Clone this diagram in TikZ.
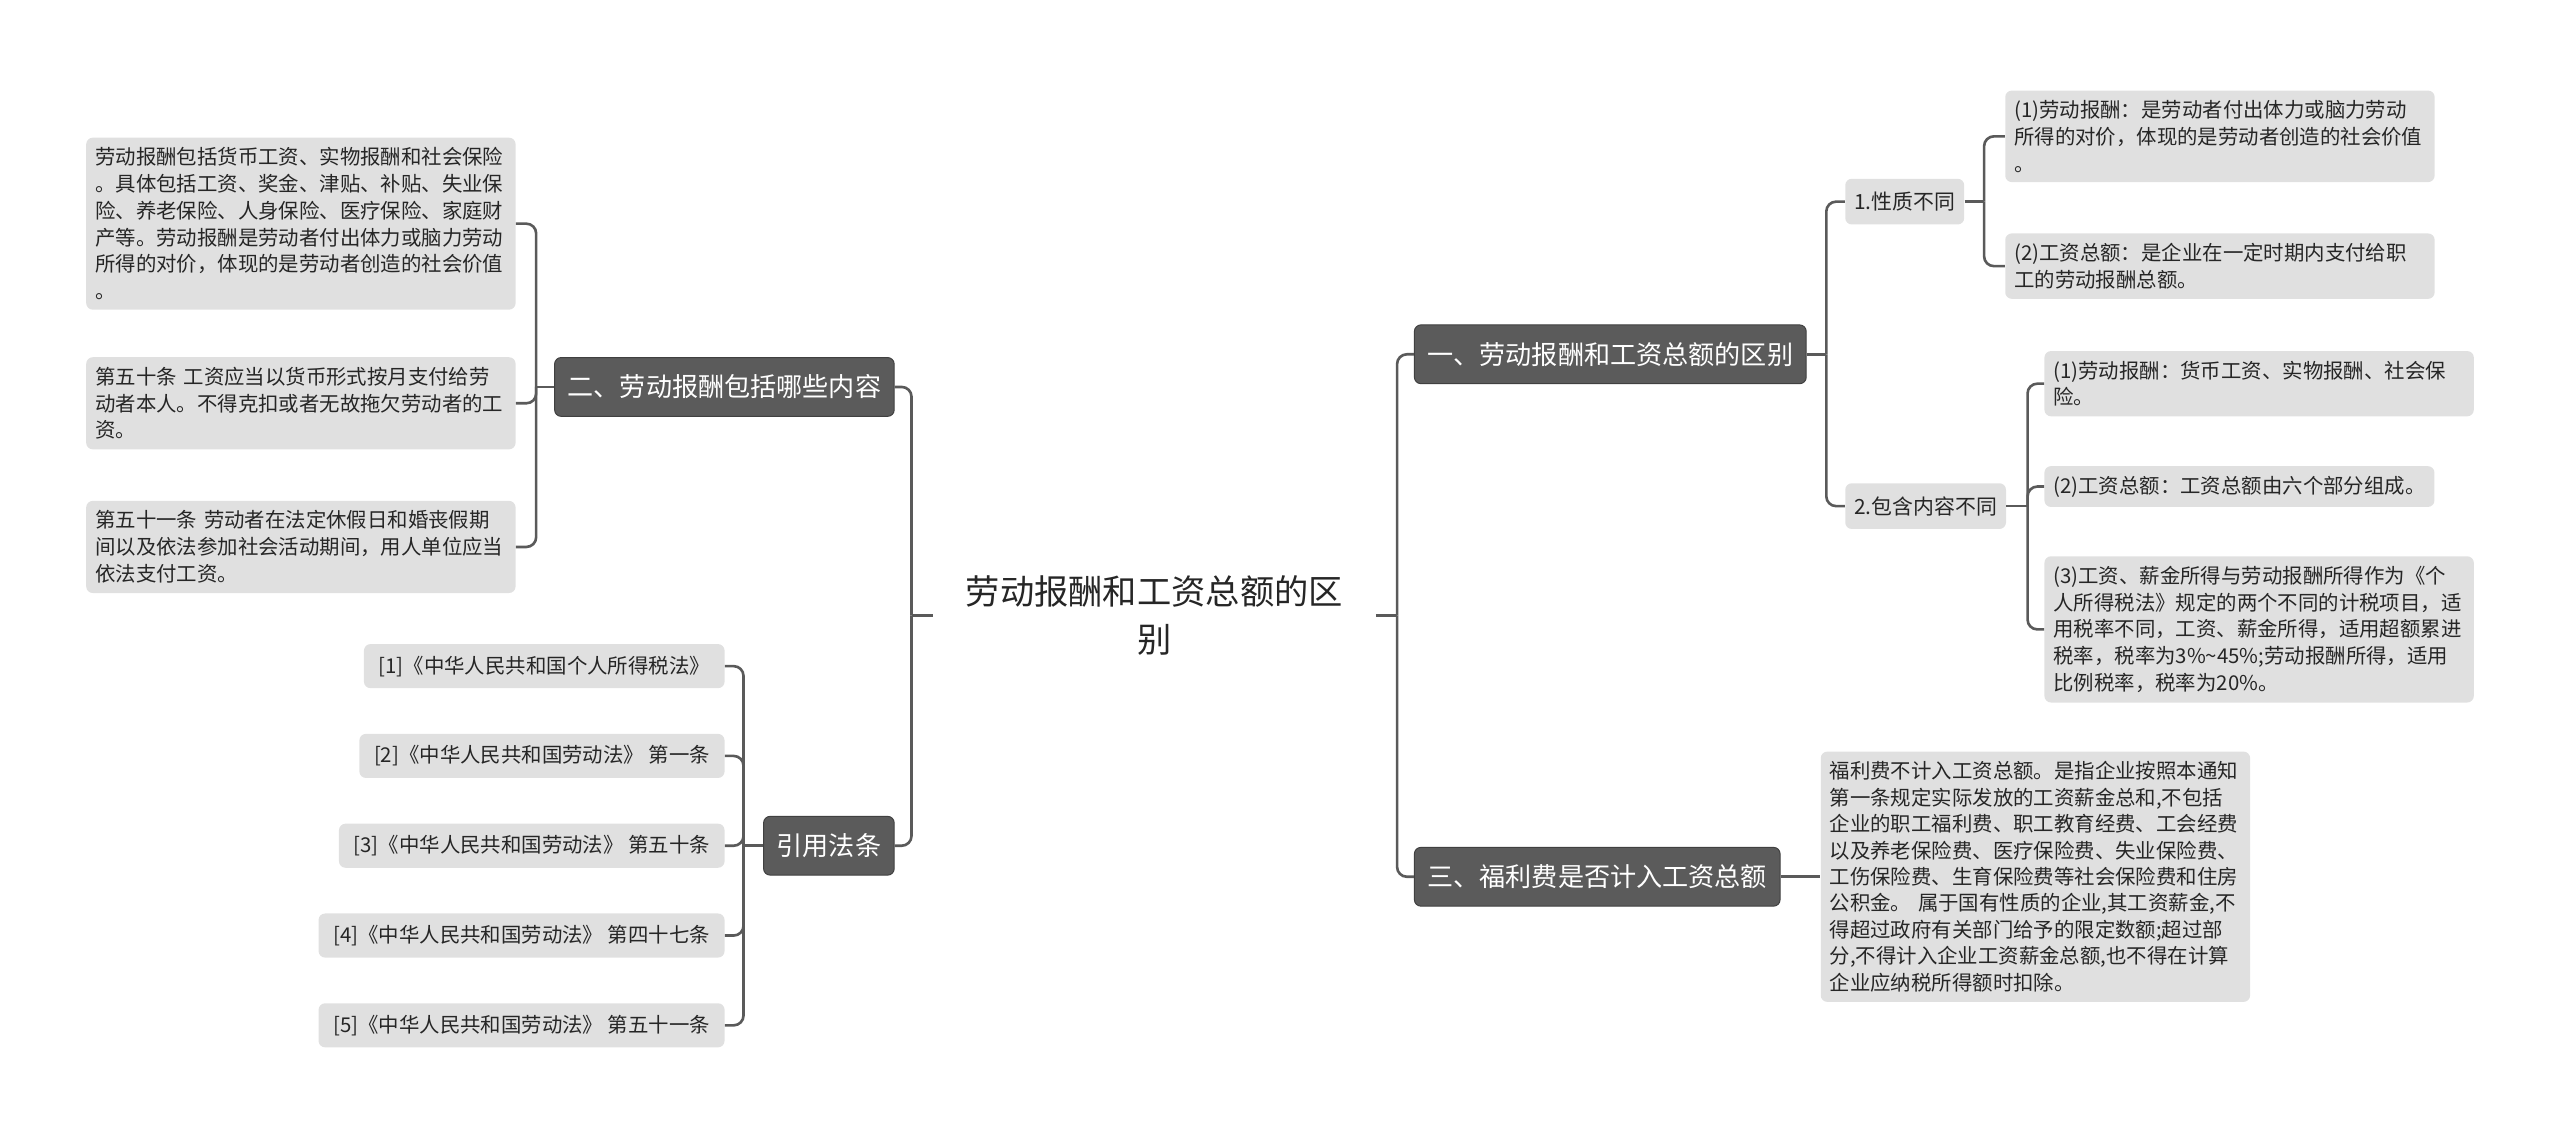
\documentclass[tikz,border=0pt]{standalone}
\usepackage{fontspec}
\setmainfont{Noto Sans CJK SC}
\usepackage{xcolor}
\usepackage{tikz}
\definecolor{linegray}{HTML}{5A5A5A}
\definecolor{topicgray}{HTML}{5B5B5B}
\definecolor{boxgray}{HTML}{E0E0E0}

\begin{document}
\begin{tikzpicture}[x=1pt,y=-1pt,
    conn/.style={draw=linegray,line width=1.6pt,rounded corners=6pt},
    topic/.style={fill=topicgray,draw=black!75,line width=0.6pt,rounded corners=4pt,text=white,
      minimum height=36pt,inner xsep=8pt,font=\fontsize{16}{19}\selectfont},
    box/.style={fill=boxgray,rounded corners=4pt,text=black!85,align=left,inner xsep=5.5pt,
      inner ysep=6pt,font=\fontsize{12.5}{16.4}\selectfont},
    leaf/.style={box,text width=252pt},
    subnode/.style={box,minimum height=28pt,font=\fontsize{12.8}{15}\selectfont},
    citebox/.style={box,minimum height=27pt,inner xsep=9pt}]
      \useasboundingbox (0,0) rectangle (1568,697);
      \node[align=center,inner xsep=20pt,text=black!85,font=\fontsize{21}{29}\selectfont] (root) at (707,377)
        {劳动报酬和工资总额的区\\别};

      % left side
      \node[topic,anchor=east] (incl) at (548,237) {二、劳动报酬包括哪些内容};
      \node[topic,anchor=east] (cite) at (548,518) {引用法条};
      \node[leaf,anchor=east] (incl_1) at (316,137) {劳动报酬包括货币工资、实物报酬和社会保险\\。具体包括工资、奖金、津贴、补贴、失业保\\险、养老保险、人身保险、医疗保险、家庭财\\产等。劳动报酬是劳动者付出体力或脑力劳动\\所得的对价，体现的是劳动者创造的社会价值\\。};
      \node[leaf,anchor=east] (incl_2) at (316,247) {第五十条 工资应当以货币形式按月支付给劳\\动者本人。不得克扣或者无故拖欠劳动者的工\\资。};
      \node[leaf,anchor=east] (incl_3) at (316,335) {第五十一条 劳动者在法定休假日和婚丧假期\\间以及依法参加社会活动期间，用人单位应当\\依法支付工资。};
      \node[citebox,anchor=east] (cite_1) at (444,408) {[1]《中华人民共和国个人所得税法》};
      \node[citebox,anchor=east] (cite_2) at (444,463) {[2]《中华人民共和国劳动法》 第一条};
      \node[citebox,anchor=east] (cite_3) at (444,518) {[3]《中华人民共和国劳动法》 第五十条};
      \node[citebox,anchor=east] (cite_4) at (444,573) {[4]《中华人民共和国劳动法》 第四十七条};
      \node[citebox,anchor=east] (cite_5) at (444,628) {[5]《中华人民共和国劳动法》 第五十一条};

      % right side
      \node[topic,anchor=west] (diff) at (866,217) {一、劳动报酬和工资总额的区别};
      \node[topic,anchor=west] (welf) at (866,537) {三、福利费是否计入工资总额};
      \node[subnode,anchor=west] (nat) at (1130,123.5) {1.性质不同};
      \node[subnode,anchor=west] (cont) at (1130,310) {2.包含内容不同};
      \node[leaf,anchor=west] (nat_1) at (1228,83.5) {(1)劳动报酬：是劳动者付出体力或脑力劳动\\所得的对价，体现的是劳动者创造的社会价值\\。};
      \node[leaf,anchor=west] (nat_2) at (1228,163) {(2)工资总额：是企业在一定时期内支付给职\\工的劳动报酬总额。};
      \node[leaf,anchor=west] (cont_1) at (1252,235) {(1)劳动报酬：货币工资、实物报酬、社会保\\险。};
      \node[box,anchor=west] (cont_2) at (1252,298) {(2)工资总额：工资总额由六个部分组成。};
      \node[leaf,anchor=west] (cont_3) at (1252,385.5) {(3)工资、薪金所得与劳动报酬所得作为《个\\人所得税法》规定的两个不同的计税项目，适\\用税率不同，工资、薪金所得，适用超额累进\\税率，税率为3\%\textasciitilde45\%;劳动报酬所得，适用\\比例税率，税率为20\%。};
      \node[leaf,anchor=west,font=\fontsize{12.5}{16.2}\selectfont] (welf_1) at (1115,537) {福利费不计入工资总额。是指企业按照本通知\\第一条规定实际发放的工资薪金总和,不包括\\企业的职工福利费、职工教育经费、工会经费\\以及养老保险费、医疗保险费、失业保险费、\\工伤保险费、生育保险费等社会保险费和住房\\公积金。 属于国有性质的企业,其工资薪金,不\\得超过政府有关部门给予的限定数额;超过部\\分,不得计入企业工资薪金总额,也不得在计算\\企业应纳税所得额时扣除。};

      % connectors
      \draw[conn] (root.west) -- ++(-13,0) coordinate (j_root_l);
      \draw[conn] (j_root_l) |- (incl.east);
      \draw[conn] (j_root_l) |- (cite.east);
      \draw[conn] (root.east) -- ++(13,0) coordinate (j_root_r);
      \draw[conn] (j_root_r) |- (diff.west);
      \draw[conn] (j_root_r) |- (welf.west);
      \draw[conn] (incl.west) -- ++(-11,0) coordinate (j_incl);
      \foreach \i in {1,2,3}
        \draw[conn] (j_incl) |- (incl_\i.east);
      \draw[conn] (cite.west) -- ++(-12,0) coordinate (j_cite);
      \foreach \i in {1,...,5}
        \draw[conn] (j_cite) |- (cite_\i.east);
      \draw[conn] (diff.east) -- ++(12,0) coordinate (j_diff);
      \draw[conn] (j_diff) |- (nat.west);
      \draw[conn] (j_diff) |- (cont.west);
      \draw[conn] (nat.east) -- ++(12,0) coordinate (j_nat);
      \foreach \i in {1,2}
        \draw[conn] (j_nat) |- (nat_\i.west);
      \draw[conn] (cont.east) -- ++(13,0) coordinate (j_cont);
      \foreach \i in {1,2,3}
        \draw[conn] (j_cont) |- (cont_\i.west);
      \draw[conn] (welf.east) -- (welf_1.west);
    \end{tikzpicture}
\end{document}
